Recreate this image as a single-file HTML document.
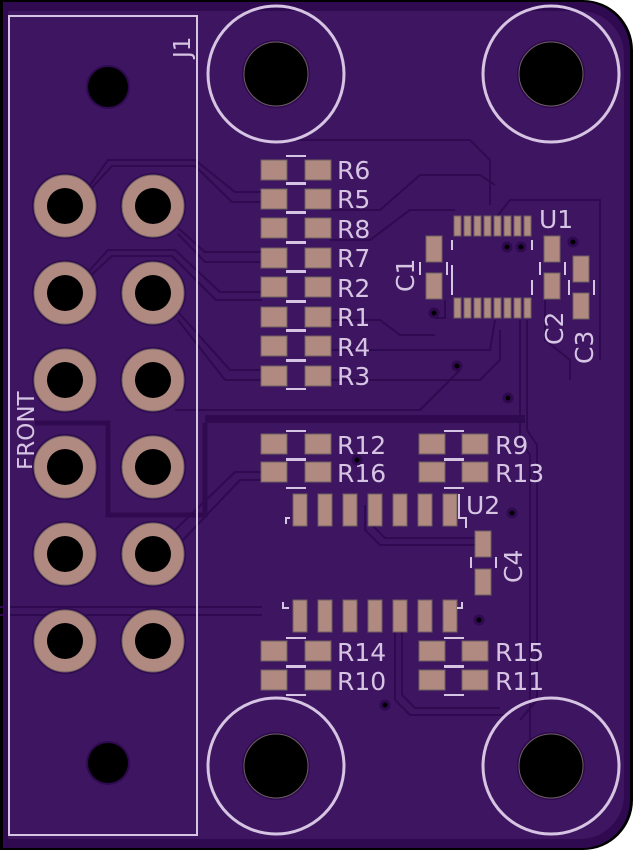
<!DOCTYPE html>
<html><head><meta charset="utf-8"><style>
html,body{margin:0;padding:0;background:#fff;}
svg{display:block;}
text{font-family:"DejaVu Sans","Liberation Sans",sans-serif;fill:#d6c4e3;}
</style></head><body>
<svg width="633" height="850" viewBox="0 0 633 850" xmlns="http://www.w3.org/2000/svg">
<defs>
<g id="pad"><rect width="26" height="20" fill="#b08a80" stroke="#6e6060" stroke-width="1"/></g>
<g id="pinhole"><circle r="33" fill="#2f0a50"/><circle r="31" fill="#b08a80" stroke="#6e6060" stroke-width="1"/><circle r="18" fill="#000"/></g>
<g id="mhole"><circle r="68" fill="none" stroke="#d6c4e3" stroke-width="3"/><circle r="34" fill="#2f0a50"/><circle r="32" fill="#000" stroke="#6e6060" stroke-width="1"/></g>
</defs>
<path d="M0 0 H583 A50 50 0 0 1 633 50 V800 A50 50 0 0 1 583 850 H0 Z" fill="#000"/>
<path d="M3 2 H582 A48 48 0 0 1 630 50 V800 A48 48 0 0 1 582 848 H3 Z" fill="#300a51"/>
<path d="M8 11 H580 A44 44 0 0 1 624 55 V795 A44 44 0 0 1 580 839 H8 Z" fill="#3e1560"/>
<!-- traces -->
<g fill="none" stroke="#2f0a50" stroke-width="2">
<path d="M90 185 L108 160 H195 L235 192 H262"/>
<path d="M88 192 L112 166 H195 L232 202 H262"/>
<path d="M178 228 L205 252 H262"/>
<path d="M178 234 L205 262 H262"/>
<path d="M88 272 L108 250 H175 L220 292 H262"/>
<path d="M88 278 L112 256 H172 L216 300 H262"/>
<path d="M178 312 L230 370 H262"/>
<path d="M178 320 L225 380 H262"/>
<path d="M330 210 H380 L420 175 H480 L495 185"/>
<path d="M330 240 H370 L410 210 H455"/>
<path d="M330 320 H380 L400 335 H435"/>
<path d="M330 350 H490 L495 320"/>
<path d="M330 380 H480 L500 360 V330"/>
<path d="M293 140 H470 L490 160 V205"/>
<path d="M498 215 L510 200 H600 V360"/>
<path d="M445 300 V318 H435"/>
<path d="M175 410 H420 L460 370"/>
<path d="M183 540 L240 480 H262"/>
<path d="M175 530 L235 472 H262"/>
<path d="M365 505 V530 L380 545 H475"/>
<path d="M372 505 V525 L385 538 H475"/>
<path d="M520 320 V440 L530 455 V760"/>
<path d="M527 320 V430 L537 445 V700 L520 720"/>
<path d="M395 632 V700 L410 715 H505"/>
<path d="M402 632 V695 L415 708 H500"/>
<path d="M0 607 H262"/>
<path d="M0 615 H262"/>
<path d="M545 300 V340 L570 360 V380"/>
</g>
<path d="M35 423 H108 V515 H205 V423" fill="none" stroke="#300a51" stroke-width="5"/>
<rect x="205" y="415" width="320" height="8" fill="#300a51"/>
<!-- J1 -->
<rect x="9" y="16" width="188" height="819" fill="none" stroke="#d6c4e3" stroke-width="2"/>
<text transform="translate(190,58) rotate(-90)" font-size="23">J1</text>
<text transform="translate(34,470) rotate(-90)" font-size="23">FRONT</text>
<circle cx="108" cy="87" r="22" fill="#2f0a50"/><circle cx="108" cy="87" r="20" fill="#000"/>
<circle cx="108" cy="763" r="22" fill="#2f0a50"/><circle cx="108" cy="763" r="20" fill="#000"/>
<use href="#pinhole" x="65" y="206"/><use href="#pinhole" x="153" y="206"/>
<use href="#pinhole" x="65" y="293"/><use href="#pinhole" x="153" y="293"/>
<use href="#pinhole" x="65" y="380"/><use href="#pinhole" x="153" y="380"/>
<use href="#pinhole" x="65" y="467"/><use href="#pinhole" x="153" y="467"/>
<use href="#pinhole" x="65" y="554"/><use href="#pinhole" x="153" y="554"/>
<use href="#pinhole" x="65" y="641"/><use href="#pinhole" x="153" y="641"/>
<!-- mounting -->
<use href="#mhole" x="276" y="74"/><use href="#mhole" x="551" y="74"/>
<use href="#mhole" x="276" y="766"/><use href="#mhole" x="551" y="766"/>
<!-- resistor column -->
<g font-size="25">
<use href="#pad" x="261" y="160"/><use href="#pad" x="305" y="160"/><text x="337" y="179">R6</text>
<use href="#pad" x="261" y="189"/><use href="#pad" x="305" y="189"/><text x="337" y="208">R5</text>
<use href="#pad" x="261" y="218"/><use href="#pad" x="305" y="218"/><text x="337" y="238">R8</text>
<use href="#pad" x="261" y="248"/><use href="#pad" x="305" y="248"/><text x="337" y="267">R7</text>
<use href="#pad" x="261" y="277"/><use href="#pad" x="305" y="277"/><text x="337" y="297">R2</text>
<use href="#pad" x="261" y="307"/><use href="#pad" x="305" y="307"/><text x="337" y="326">R1</text>
<use href="#pad" x="261" y="336"/><use href="#pad" x="305" y="336"/><text x="337" y="356">R4</text>
<use href="#pad" x="261" y="366"/><use href="#pad" x="305" y="366"/><text x="337" y="385">R3</text>
<g fill="#d6c4e3">
<rect x="286" y="155" width="20" height="2"/><rect x="286" y="182" width="20" height="3"/>
<rect x="286" y="211" width="20" height="3"/><rect x="286" y="241" width="20" height="3"/>
<rect x="286" y="270" width="20" height="3"/><rect x="286" y="300" width="20" height="3"/>
<rect x="286" y="329" width="20" height="3"/><rect x="286" y="359" width="20" height="3"/>
<rect x="286" y="388" width="20" height="2"/>
<rect x="286" y="430" width="20" height="2"/><rect x="286" y="458" width="20" height="3"/><rect x="286" y="487" width="20" height="2"/>
<rect x="444" y="430" width="20" height="2"/><rect x="444" y="458" width="20" height="3"/><rect x="444" y="487" width="20" height="2"/>
<rect x="286" y="637" width="20" height="2"/><rect x="286" y="665" width="20" height="3"/><rect x="286" y="694" width="20" height="2"/>
<rect x="444" y="637" width="20" height="2"/><rect x="444" y="665" width="20" height="3"/><rect x="444" y="694" width="20" height="2"/>
</g>
<use href="#pad" x="261" y="434"/><use href="#pad" x="305" y="434"/><text x="337" y="454">R12</text>
<use href="#pad" x="261" y="462"/><use href="#pad" x="305" y="462"/><text x="337" y="482">R16</text>
<use href="#pad" x="419" y="434"/><use href="#pad" x="462" y="434"/><text x="495" y="454">R9</text>
<use href="#pad" x="419" y="462"/><use href="#pad" x="462" y="462"/><text x="495" y="482">R13</text>
<use href="#pad" x="261" y="641"/><use href="#pad" x="305" y="641"/><text x="337" y="661">R14</text>
<use href="#pad" x="261" y="670"/><use href="#pad" x="305" y="670"/><text x="337" y="690">R10</text>
<use href="#pad" x="419" y="641"/><use href="#pad" x="462" y="641"/><text x="495" y="661">R15</text>
<use href="#pad" x="419" y="670"/><use href="#pad" x="462" y="670"/><text x="495" y="690">R11</text>
<text x="539" y="228">U1</text>
<text x="466" y="514">U2</text>
<text transform="translate(414,292) rotate(-90)">C1</text>
<text transform="translate(563,345) rotate(-90)">C2</text>
<text transform="translate(593,364) rotate(-90)">C3</text>
<text transform="translate(522,583) rotate(-90)">C4</text>
</g>
<!-- U1 -->
<g fill="#b08a80" stroke="#6e6060" stroke-width="1">
<rect x="454" y="216" width="7" height="20"/><rect x="464" y="216" width="7" height="20"/><rect x="474" y="216" width="7" height="20"/><rect x="484" y="216" width="7" height="20"/><rect x="494" y="216" width="7" height="20"/><rect x="504" y="216" width="7" height="20"/><rect x="514" y="216" width="7" height="20"/><rect x="524" y="216" width="7" height="20"/>
<rect x="454" y="298" width="7" height="20"/><rect x="464" y="298" width="7" height="20"/><rect x="474" y="298" width="7" height="20"/><rect x="484" y="298" width="7" height="20"/><rect x="494" y="298" width="7" height="20"/><rect x="504" y="298" width="7" height="20"/><rect x="514" y="298" width="7" height="20"/><rect x="524" y="298" width="7" height="20"/>
<rect x="426" y="236" width="16" height="26"/><rect x="426" y="273" width="16" height="26"/>
<rect x="544" y="236" width="16" height="26"/><rect x="544" y="273" width="16" height="26"/>
<rect x="573" y="256" width="16" height="26"/><rect x="573" y="293" width="16" height="26"/>
<rect x="475" y="531" width="16" height="26"/><rect x="475" y="569" width="16" height="26"/>
</g>
<g fill="#b08a80" stroke="#6e6060" stroke-width="1">
<rect x="293" y="494" width="14" height="32"/><rect x="318" y="494" width="14" height="32"/><rect x="343" y="494" width="14" height="32"/><rect x="368" y="494" width="14" height="32"/><rect x="393" y="494" width="14" height="32"/><rect x="418" y="494" width="14" height="32"/><rect x="443" y="494" width="14" height="32"/>
<rect x="293" y="600" width="14" height="32"/><rect x="318" y="600" width="14" height="32"/><rect x="343" y="600" width="14" height="32"/><rect x="368" y="600" width="14" height="32"/><rect x="393" y="600" width="14" height="32"/><rect x="418" y="600" width="14" height="32"/><rect x="443" y="600" width="14" height="32"/>
</g>
<g fill="none" stroke="#d6c4e3" stroke-width="2">
<path d="M286 524 V518 H290"/><path d="M459 494 V518 H466 V528"/>
<path d="M283 602 V608 H289"/><path d="M462 602 V608 H457"/>
<path d="M452 240 V250 M452 265 V295 M532 240 V250 M532 280 V295"/>
<path d="M420 262 V275 M447 262 V275 M540 262 V275 M565 262 V275 M569 280 V295 M594 280 V295 M471 557 V568 M496 557 V568"/>
</g>
<!-- vias -->
<g fill="#000" stroke="#2f0a50" stroke-width="3">
<circle cx="434" cy="313" r="4"/><circle cx="507" cy="247" r="4"/><circle cx="521" cy="247" r="4"/><circle cx="573" cy="242" r="4"/>
<circle cx="457" cy="366" r="4"/><circle cx="508" cy="398" r="4"/><circle cx="357" cy="460" r="4"/><circle cx="512" cy="513" r="4"/>
<circle cx="479" cy="620" r="4"/><circle cx="385" cy="705" r="4"/>
</g>
</svg>
</body></html>
